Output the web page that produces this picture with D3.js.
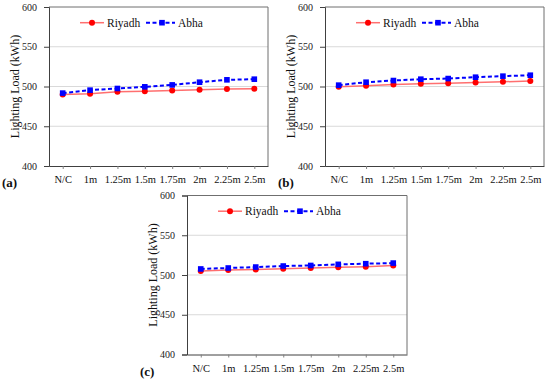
<!DOCTYPE html>
<html>
<head>
<meta charset="utf-8">
<script src="https://cdn.jsdelivr.net/npm/d3@7"></script>
<style>
  body { margin: 0; background: #fff; }
  svg { display: block; font-family: "Liberation Serif", "DejaVu Serif", serif; }
</style>
</head>
<body>
<svg width="550" height="383"></svg>
<script>
var categories = ['N/C', '1m', '1.25m', '1.5m', '1.75m', '2m', '2.25m', '2.5m'];
var yTicks = [400, 450, 500, 550, 600];
var seriesNames = ['Riyadh', 'Abha'];

var riyadhA = [490, 491, 493.4, 494, 495, 496, 496.7, 497.3];
var abhaA = [491.7, 495.4, 497.5, 499.6, 502, 505.4, 508.4, 509.2];
var riyadhB = [499.6, 500.8, 502.5, 503.4, 504.2, 505, 505.9, 507];
var abhaB = [501.7, 505.4, 507.5, 509.2, 510, 511.7, 513, 514.2];
var riyadhC = [505, 506.3, 507, 508, 508.8, 509.6, 510.5, 512];
var abhaC = [507.6, 508.8, 510, 511.3, 512, 513.4, 514.2, 515];

var panels = [
    { label: '(a)', left: 49, top: 7, width: 219, height: 159, riyadh: riyadhA, abha: abhaA },
    { label: '(b)', left: 325, top: 7, width: 219, height: 159, riyadh: riyadhB, abha: abhaB },
    { label: '(c)', left: 187, top: 195.5, width: 220, height: 159, riyadh: riyadhC, abha: abhaC }
];

var svg = d3.select('svg');

panels.forEach(function(p) {
    var g = svg.append('g')
        .attr('transform', 'translate(' + p.left + ',' + p.top + ')');

    var x = d3.scalePoint()
        .domain(categories)
        .range([0, p.width])
        .padding(0.5);

    var y = d3.scaleLinear()
        .domain([400, 600])
        .range([p.height, 0]);

    // gridlines
    g.selectAll('line.grid')
        .data(yTicks.filter(d => d > 400 && d < 600))
      .enter().append('line')
        .attr('class', 'grid')
        .attr('x1', 0)
        .attr('x2', p.width)
        .attr('y1', d => y(d))
        .attr('y2', d => y(d))
        .attr('stroke', '#d9d9d9')
        .attr('stroke-width', 1);

    // top and right border
    g.append('path')
        .attr('d', 'M0,' + y(600) + 'H' + p.width + 'V' + y(400))
        .attr('fill', 'none')
        .attr('stroke', '#6f6f6f')
        .attr('stroke-width', 1);

    var yAxis = g.append('g')
        .call(d3.axisLeft(y).tickValues(yTicks).tickSize(5).tickPadding(7));
    yAxis.select('.domain').attr('stroke', '#404040');
    yAxis.selectAll('.tick line').attr('stroke', '#404040');
    yAxis.selectAll('text')
        .attr('font-size', 10)
        .attr('fill', '#222')
        .style('font-family', '"Liberation Serif", serif');

    var xAxis = g.append('g')
        .attr('transform', 'translate(0,' + p.height + ')')
        .call(d3.axisBottom(x).tickSizeInner(3).tickSizeOuter(0).tickPadding(7));
    xAxis.select('.domain').attr('stroke', '#404040');
    xAxis.selectAll('.tick line').attr('stroke', '#808080');
    xAxis.selectAll('text')
        .attr('font-size', 10.5)
        .attr('fill', '#111')
        .style('font-family', '"Liberation Serif", serif');

    // y title
    g.append('text')
        .attr('transform', 'rotate(-90)')
        .attr('x', -p.height / 2)
        .attr('y', -30)
        .attr('text-anchor', 'middle')
        .attr('font-size', 12)
        .attr('fill', '#111')
        .text('Lighting Load (kWh)');

    // panel label
    g.append('text')
        .attr('x', -47)
        .attr('y', p.height + 21)
        .attr('font-size', 13)
        .attr('font-weight', 'bold')
        .attr('fill', '#111')
        .text(p.label);

    var line = d3.line()
        .x((d, i) => x(categories[i]))
        .y(d => y(d));

    // Riyadh
    g.append('path')
        .datum(p.riyadh)
        .attr('d', line)
        .attr('fill', 'none')
        .attr('stroke', '#ff6f6f')
        .attr('stroke-width', 1.5);
    g.selectAll('circle.riyadh')
        .data(p.riyadh)
      .enter().append('circle')
        .attr('class', 'riyadh')
        .attr('cx', (d, i) => x(categories[i]))
        .attr('cy', d => y(d))
        .attr('r', 3)
        .attr('fill', '#ff0000');

    // Abha
    g.append('path')
        .datum(p.abha)
        .attr('d', line)
        .attr('fill', 'none')
        .attr('stroke', '#0000ff')
        .attr('stroke-width', 2)
        .attr('stroke-dasharray', '4,2.5');
    g.selectAll('rect.abha')
        .data(p.abha)
      .enter().append('rect')
        .attr('class', 'abha')
        .attr('x', (d, i) => x(categories[i]) - 2.8)
        .attr('y', d => y(d) - 2.8)
        .attr('width', 5.6)
        .attr('height', 5.6)
        .attr('fill', '#0000ff');

    // legend
    var ly = 15.7;
    g.append('line')
        .attr('x1', 31).attr('x2', 55)
        .attr('y1', ly).attr('y2', ly)
        .attr('stroke', '#ff6f6f')
        .attr('stroke-width', 1.5);
    g.append('circle')
        .attr('cx', 43).attr('cy', ly).attr('r', 3)
        .attr('fill', '#ff0000');
    g.append('text')
        .attr('x', 58).attr('y', ly).attr('dy', '0.35em')
        .attr('font-size', 11.5)
        .attr('fill', '#111')
        .text(seriesNames[0]);

    g.append('line')
        .attr('x1', 97).attr('x2', 126)
        .attr('y1', ly).attr('y2', ly)
        .attr('stroke', '#0000ff')
        .attr('stroke-width', 2)
        .attr('stroke-dasharray', '4,2.5');
    g.append('rect')
        .attr('x', 113 - 2.8).attr('y', ly - 2.8)
        .attr('width', 5.6).attr('height', 5.6)
        .attr('fill', '#0000ff');
    g.append('text')
        .attr('x', 129).attr('y', ly).attr('dy', '0.35em')
        .attr('font-size', 11.5)
        .attr('fill', '#111')
        .text(seriesNames[1]);
});
</script>
</body>
</html>
